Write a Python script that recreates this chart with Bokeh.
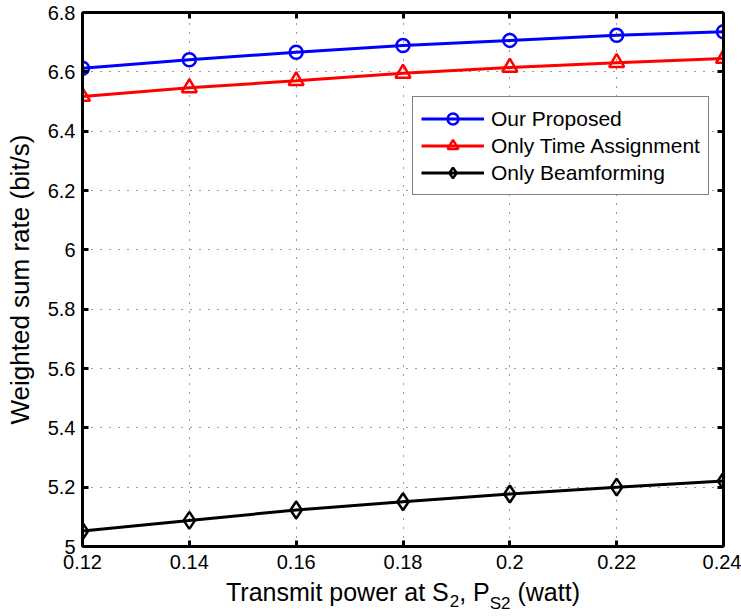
from bokeh.plotting import figure
from bokeh.layouts import column
from bokeh.models import LinearAxis, FixedTicker, Legend, LegendItem, Range1d
from bokeh.core.properties import value
from bokeh.embed import file_html
from bokeh.resources import INLINE

# ---- data ----
power = [0.12, 0.14, 0.16, 0.18, 0.20, 0.22, 0.24]
proposed = [6.612, 6.641, 6.666, 6.689, 6.706, 6.723, 6.735]
time_only = [6.517, 6.546, 6.570, 6.595, 6.615, 6.631, 6.645]
beam_only = [5.052, 5.088, 5.123, 5.151, 5.177, 5.200, 5.221]

x_ticks = [0.12, 0.14, 0.16, 0.18, 0.20, 0.22, 0.24]
x_tick_labels = ["0.12", "0.14", "0.16", "0.18", "0.2", "0.22", "0.24"]
y_ticks = [5.0, 5.2, 5.4, 5.6, 5.8, 6.0, 6.2, 6.4, 6.6, 6.8]
y_tick_labels = ["5", "5.2", "5.4", "5.6", "5.8", "6", "6.2", "6.4", "6.6", "6.8"]

series_names = ["Our Proposed", "Only Time Assignment", "Only Beamforming"]
x_label_parts = ["Transmit power at S", "2", ", P", "S2", " (watt)"]
y_label_text = "Weighted sum rate (bit/s)"

FONT = "Liberation Sans"
W, H = 741, 616
MAIN_H = 577
L, R, T, B = 82, 723, 12, 546   # frame in pixels
X0, X1 = 0.12, 0.24

p = figure(width=W, height=MAIN_H, output_backend="svg", toolbar_location=None,
           x_range=Range1d(X0, X1), y_range=Range1d(5.0, 6.8),
           min_border_left=L, min_border_right=W - R,
           min_border_top=T, min_border_bottom=MAIN_H - B)
p.outline_line_color = None
p.background_fill_color = "white"
p.border_fill_color = "white"


def style_axis(ax):
    ax.axis_line_width = 3
    ax.axis_line_color = "black"
    ax.major_tick_in = 6
    ax.major_tick_out = 0
    ax.major_tick_line_width = 3
    ax.major_tick_line_color = "black"
    ax.minor_tick_line_color = None
    ax.major_label_text_font = FONT
    ax.major_label_text_font_size = "20px"
    ax.major_label_text_color = "black"


xa = p.xaxis[0]
style_axis(xa)
xa.ticker = FixedTicker(ticks=x_ticks)
xa.major_label_overrides = {t: s for t, s in zip(x_ticks, x_tick_labels)}
xa.major_label_standoff = 8

ya = p.yaxis[0]
style_axis(ya)
ya.ticker = FixedTicker(ticks=y_ticks)
ya.major_label_overrides = {t: s for t, s in zip(y_ticks, y_tick_labels)}
ya.major_label_standoff = 7
ya.axis_label = y_label_text
ya.axis_label_text_font = FONT
ya.axis_label_text_font_size = "26px"
ya.axis_label_text_font_style = "normal"
ya.axis_label_text_color = "black"
ya.axis_label_standoff = 10

top = LinearAxis(ticker=FixedTicker(ticks=x_ticks),
                 major_label_overrides={t: "" for t in x_ticks})
style_axis(top)
top.major_label_standoff = 0
p.add_layout(top, "above")
right = LinearAxis(ticker=FixedTicker(ticks=y_ticks),
                   major_label_overrides={t: "" for t in y_ticks})
style_axis(right)
right.major_label_standoff = 0
p.add_layout(right, "right")

for g in (p.xgrid[0], p.ygrid[0]):
    g.grid_line_color = "black"
    g.grid_line_alpha = 0.8
    g.grid_line_width = 1
    g.grid_line_dash = "1 8"
p.xgrid[0].ticker = FixedTicker(ticks=x_ticks)
p.ygrid[0].ticker = FixedTicker(ticks=y_ticks)

items = []
specs = [
    (proposed, "#0000FF", "circle", 13),
    (time_only, "#FF0000", "triangle", 15),
    (beam_only, "#000000", "diamond", 17),
]
for (vals, col, mk, sz), name in zip(specs, series_names):
    ln = p.line(power, vals, line_color=col, line_width=3)
    sc = p.scatter(power, vals, marker=mk, size=sz, line_color=col,
                   line_width=2.5, fill_color=None)
    items.append(LegendItem(label=name, renderers=[ln, sc]))

legend = Legend(items=items, location=(330, 351))
legend.label_text_font = FONT
legend.label_text_font_size = "21px"
legend.label_text_color = "black"
legend.label_height = 27
legend.glyph_height = 27
legend.glyph_width = 63
legend.label_standoff = 7
legend.spacing = 0
legend.padding = 8
legend.margin = 0
legend.border_line_color = "black"
legend.border_line_width = 1
legend.background_fill_color = "white"
legend.background_fill_alpha = 1
p.add_layout(legend, "center")

# ---- x-axis title with subscripts (strip below, sharing the x range) ----
LAB_H = H - MAIN_H
q = figure(frame_width=R - L, frame_height=LAB_H, output_backend="svg",
           toolbar_location=None,
           x_range=p.x_range, y_range=Range1d(0, LAB_H),
           x_axis_type=None, y_axis_type=None,
           min_border_left=L, min_border_right=W - R,
           min_border_top=0, min_border_bottom=0)
q.outline_line_color = None
q.grid.visible = False
q.background_fill_color = "white"
q.border_fill_color = "white"

AW = {"T": 611, "r": 333, "a": 556, "n": 556, "s": 500, "m": 833, "i": 222,
      "t": 278, " ": 278, "p": 556, "o": 556, "w": 722, "e": 556, "S": 667,
      ",": 278, "P": 667, "(": 333, ")": 333, "2": 556}


def text_w(s, size):
    return sum(AW.get(c, 556) for c in s) * size / 1000.0


def px_to_x(px):
    return X0 + (px - L) * (X1 - X0) / (R - L)


big, small = 25, 17
sizes = [big, small, big, small, big]
baselines = [591, 600, 591, 603, 591]
total = sum(text_w(s, z) for s, z in zip(x_label_parts, sizes))
xpos = (L + R) / 2.0 - total / 2.0
for s, z, by in zip(x_label_parts, sizes, baselines):
    shown = s.lstrip()
    lead = text_w(s[:len(s) - len(shown)], z)
    q.text(x=[px_to_x(xpos + lead)], y=[H - by], text=[shown],
           text_font=value(FONT), text_font_size=f"{z}px", text_align="left",
           text_baseline="alphabetic", text_color="black")
    xpos += text_w(s, z)

open("out.html", "w").write(file_html(column(p, q, spacing=0), INLINE))
